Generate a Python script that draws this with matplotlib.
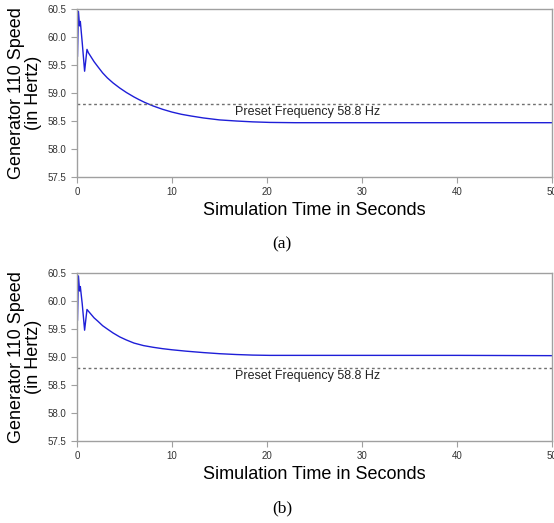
import matplotlib
matplotlib.use('Agg')
import matplotlib.pyplot as plt

# Generator 110 speed, case (a)
time_a = [0.05, 0.15, 0.27, 0.35, 0.55, 0.8, 1.05, 1.2, 1.5, 1.8, 2.2, 2.7, 3.2, 3.8, 4.5,
          5.2, 6.0, 6.5, 7.1, 8, 9, 10, 11, 12, 13.3, 15, 16.8, 18.5, 20.3, 23, 30, 40, 50]
speed_a = [59.66, 60.46, 60.2, 60.28, 59.9, 59.39, 59.78, 59.72, 59.64, 59.56, 59.47, 59.36,
           59.27, 59.18, 59.09, 59.01, 58.93, 58.885, 58.835, 58.77, 58.71, 58.66, 58.62, 58.59,
           58.555, 58.52, 58.5, 58.485, 58.475, 58.47, 58.47, 58.47, 58.47]

# Generator 110 speed, case (b)
time_b = [0.05, 0.15, 0.27, 0.35, 0.55, 0.8, 1.05, 1.2, 1.5, 1.8, 2.2, 2.7, 3.2, 3.8, 4.5,
          5.2, 6.0, 7, 8, 9, 10, 11.5, 13.3, 15, 16.8, 18.5, 20.3, 25, 30, 40, 50]
speed_b = [59.66, 60.45, 60.18, 60.26, 59.95, 59.48, 59.85, 59.82, 59.76, 59.70, 59.64, 59.56,
           59.50, 59.43, 59.36, 59.305, 59.25, 59.205, 59.175, 59.15, 59.13, 59.105, 59.08, 59.06,
           59.045, 59.035, 59.03, 59.03, 59.03, 59.03, 59.025]

preset = 58.8
panel_labels = ['(a)', '(b)']
yticks = [57.5, 58.0, 58.5, 59.0, 59.5, 60.0, 60.5]
xticks = [0, 10, 20, 30, 40, 50]

plt.rcParams['font.family'] = ['Liberation Sans', 'DejaVu Sans']

fig = plt.figure(figsize=(5.54, 5.23), dpi=100)
ax_a = fig.add_axes([0.139, 0.6616, 0.857, 0.321])
ax_b = fig.add_axes([0.139, 0.1568, 0.857, 0.321])

grey = '#a0a0a0'
for ax, t, s in [(ax_a, time_a, speed_a), (ax_b, time_b, speed_b)]:
    ax.plot(t, s, color='#1e1ed8', lw=1.0)
    ax.axhline(preset, color='#707070', lw=1.0, linestyle=(0, (2, 2)))
    ax.text(16.6, 58.77, 'Preset Frequency 58.8 Hz', fontsize=9, va='top', ha='left',
            color='#222222')
    ax.set_xlim(0, 50)
    ax.set_ylim(57.5, 60.5)
    ax.set_xticks(xticks)
    ax.set_yticks(yticks)
    ax.set_yticklabels([f'{v:.1f}' for v in yticks])
    for sp in ax.spines.values():
        sp.set_color(grey)
        sp.set_linewidth(1.0)
    ax.tick_params(colors=grey, labelcolor='#333333', labelsize=7, length=4, width=0.8)
    ax.set_xlabel('Simulation Time in Seconds', fontsize=13, labelpad=3)
    ax.set_ylabel('Generator 110 Speed\n(in Hertz)', fontsize=13, linespacing=1.05, labelpad=4)

fig.text(0.509, 0.532, panel_labels[0], family='Liberation Serif', fontsize=12.5,
         ha='center', va='center')
fig.text(0.509, 0.027, panel_labels[1], family='Liberation Serif', fontsize=12.5,
         ha='center', va='center')

plt.savefig('out.png', dpi=100)
